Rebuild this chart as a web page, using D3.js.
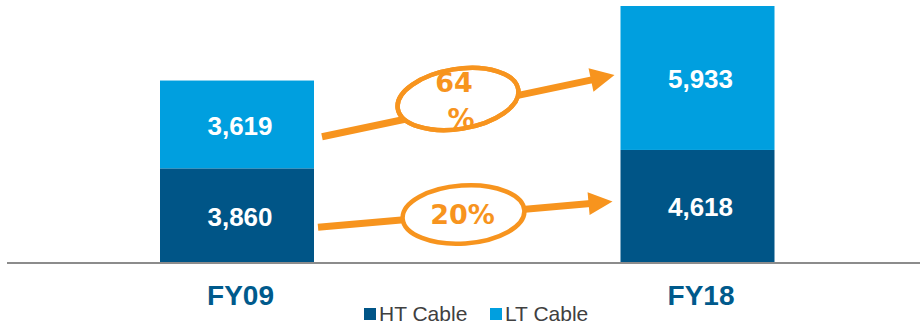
<!DOCTYPE html>
<html>
<head>
<meta charset="utf-8">
<script src="https://cdn.jsdelivr.net/npm/d3@7/dist/d3.min.js"></script>
<style>
  html, body { margin: 0; padding: 0; background: #fff; }
  svg { display: block; }
</style>
</head>
<body>
<svg id="chart" width="920" height="326"></svg>
<script>
// Cable sales volume, FY09 vs FY18
const categories = ["FY09", "FY18"];
const seriesNames = ["HT Cable", "LT Cable"];
const htValues = [3860, 4618];
const ltValues = [3619, 5933];

const colors = { "HT Cable": "#005587", "LT Cable": "#009FDF" };
const orange = "#F7941E";

const svg = d3.select("#chart");

const rows = categories.map((c, i) => ({ cat: c, "HT Cable": htValues[i], "LT Cable": ltValues[i] }));
const stacked = d3.stack().keys(seriesNames)(rows);

const x = d3.scalePoint().domain(categories).range([237, 697.5]);
const barW = 154;
const y = d3.scaleLinear()
  .domain([0, d3.max(rows, r => r["HT Cable"] + r["LT Cable"])])
  .range([262, 6]);

// stacked bars
const layer = svg.selectAll("g.layer").data(stacked).join("g")
  .attr("class", "layer")
  .attr("fill", d => colors[d.key]);

layer.selectAll("rect").data(d => d).join("rect")
  .attr("x", d => x(d.data.cat) - barW / 2)
  .attr("width", barW)
  .attr("y", d => y(d[1]))
  .attr("height", d => y(d[0]) - y(d[1]));

// value labels inside segments
const fmt = d3.format(",");
layer.selectAll("text").data(d => d.map(v => ({ v, key: d.key }))).join("text")
  .attr("x", d => x(d.v.data.cat) + 3)
  .attr("y", d => (y(d.v[0]) + y(d.v[1])) / 2 + 1)
  .attr("dy", "0.36em")
  .attr("text-anchor", "middle")
  .attr("fill", "#fff")
  .attr("font-family", "Liberation Sans, Arial, sans-serif")
  .attr("font-weight", "bold")
  .attr("font-size", 26)
  .text(d => fmt(d.v.data[d.key]));

// baseline
svg.append("line")
  .attr("x1", 7).attr("x2", 920)
  .attr("y1", y(0) + 1).attr("y2", y(0) + 1)
  .attr("stroke", "#8C8C8C").attr("stroke-width", 2);

// category labels
const xAxis = d3.axisBottom(x).tickSize(0).tickPadding(0);
const axisG = svg.append("g").attr("transform", `translate(3,${y(0)})`).call(xAxis);
axisG.select(".domain").remove();
axisG.selectAll("text")
  .attr("y", 43)
  .attr("dy", 0)
  .attr("fill", "#005A8C")
  .attr("font-family", "Liberation Sans, Arial, sans-serif")
  .attr("font-weight", "bold")
  .attr("font-size", 28);

// growth arrows between the two years
function drawArrow(p0, p1, width, headLen, headHalf) {
  const dx = p1[0] - p0[0], dy = p1[1] - p0[1];
  const len = Math.hypot(dx, dy);
  const ux = dx / len, uy = dy / len, nx = -uy, ny = ux;
  const bx = p1[0] - ux * headLen, by = p1[1] - uy * headLen;
  svg.append("line")
    .attr("x1", p0[0]).attr("y1", p0[1])
    .attr("x2", bx + ux * 2).attr("y2", by + uy * 2)
    .attr("stroke", orange).attr("stroke-width", width);
  svg.append("path")
    .attr("d", d3.line()([
      [p1[0], p1[1]],
      [bx + nx * headHalf, by + ny * headHalf],
      [bx - nx * headHalf, by - ny * headHalf]
    ]) + "Z")
    .attr("fill", orange);
}

function segY(catIdx, seriesIdx, frac) {
  const s = stacked[seriesIdx][catIdx];
  return y(s[1]) + (y(s[0]) - y(s[1])) * frac;
}

const leftEdge = x(categories[0]) + barW / 2;
const rightEdge = x(categories[1]) - barW / 2;

const growth = seriesNames.map(k => Math.round((rows[1][k] / rows[0][k] - 1) * 100));

// LT arrow (upper)
const lt0 = [leftEdge + 8, segY(0, 1, 0.64)];
const lt1 = [rightEdge - 6, segY(1, 1, 0.48)];
drawArrow(lt0, lt1, 7, 24, 12);
// HT arrow (lower)
const ht0 = [leftEdge + 4, segY(0, 0, 0.63)];
const ht1 = [rightEdge - 8, segY(1, 0, 0.46)];
drawArrow(ht0, ht1, 7, 24, 11.5);

const pctFont = "DejaVu Sans, sans-serif";

// LT growth badge
const ltBadge = svg.append("g").attr("transform", "translate(458,99)");
ltBadge.append("ellipse")
  .attr("rx", 61).attr("ry", 30)
  .attr("transform", "rotate(-9)")
  .attr("fill", "#fff").attr("stroke", orange).attr("stroke-width", 4.5);
ltBadge.append("text")
  .attr("x", -4).attr("y", -7)
  .attr("text-anchor", "middle")
  .attr("fill", orange)
  .attr("font-family", pctFont).attr("font-weight", "bold").attr("font-size", 27)
  .text(growth[1]);
ltBadge.append("text")
  .attr("x", 3).attr("y", 29)
  .attr("text-anchor", "middle")
  .attr("fill", orange)
  .attr("font-family", pctFont).attr("font-weight", "bold").attr("font-size", 27)
  .text("%");
ltBadge.append("ellipse")
  .attr("rx", 61).attr("ry", 30)
  .attr("transform", "rotate(-9)")
  .attr("fill", "none").attr("stroke", orange).attr("stroke-width", 4.5);

// HT growth badge
const htBadge = svg.append("g").attr("transform", "translate(463.5,214.5)");
htBadge.append("ellipse")
  .attr("rx", 61).attr("ry", 29)
  .attr("transform", "rotate(-4)")
  .attr("fill", "#fff").attr("stroke", orange).attr("stroke-width", 4.5);
htBadge.append("text")
  .attr("x", -1).attr("y", 0)
  .attr("dy", "0.36em")
  .attr("text-anchor", "middle")
  .attr("fill", orange)
  .attr("font-family", pctFont).attr("font-weight", "bold").attr("font-size", 27)
  .text(growth[0] + "%");

// legend
const legend = svg.append("g").attr("font-family", "Liberation Sans, Arial, sans-serif");
const legendX = [364, 490];
seriesNames.forEach((name, i) => {
  legend.append("rect")
    .attr("x", legendX[i]).attr("y", 308)
    .attr("width", 12).attr("height", 12)
    .attr("fill", colors[name]);
  legend.append("text")
    .attr("x", legendX[i] + 15).attr("y", 321)
    .attr("fill", "#404040")
    .attr("font-size", 21)
    .text(name);
});
</script>
</body>
</html>
